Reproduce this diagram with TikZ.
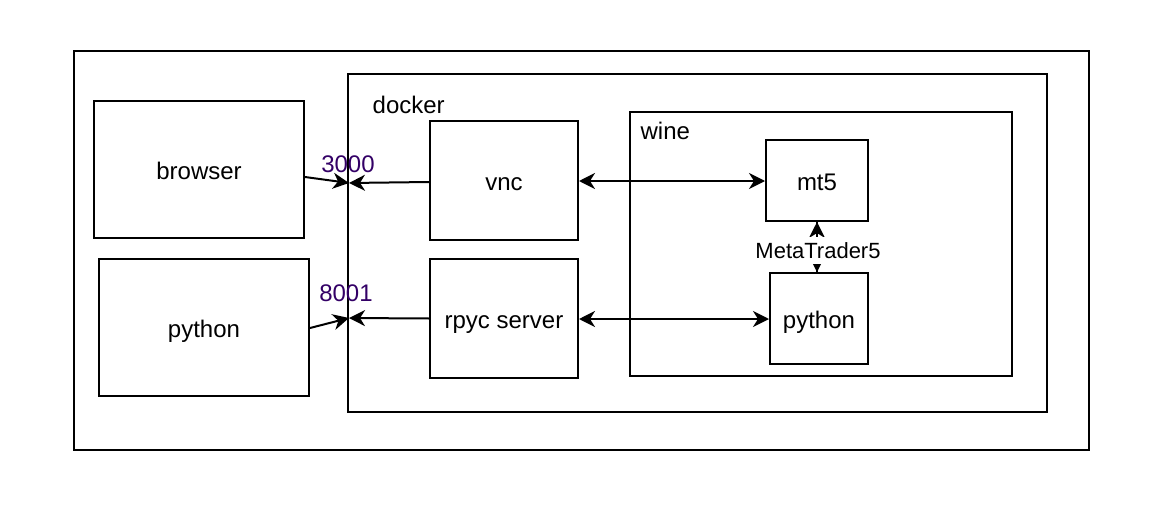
\documentclass[tikz,border=0pt]{standalone}
\usepackage{fontspec}
\setmainfont{Liberation Sans}
\usetikzlibrary{arrows.meta,positioning}
\definecolor{portcol}{RGB}{51,0,102}

\begin{document}
\begin{tikzpicture}[x=0.5pt,y=-0.5pt,line width=1pt,
  box/.style={draw,rectangle,inner sep=0pt,text height=11.4pt,text depth=1pt,font=\fontsize{12}{14}\selectfont},
  frame/.style={draw,rectangle,inner sep=0pt},
  tip/.style={-{Stealth[length=8pt,width=8pt,inset=2.5pt]}},
  both/.style={{Stealth[length=8pt,width=8pt,inset=2.5pt]}-{Stealth[length=8pt,width=8pt,inset=2.5pt]}},
  port/.style={text=portcol,font=\fontsize{12}{14}\selectfont},
  lbl/.style={anchor=west,font=\fontsize{12}{14}\selectfont}]
  \useasboundingbox (0,0) rectangle (1158,514);
  % frames
  \node[frame,minimum width=507.5pt,minimum height=199.5pt] (host) at (581.5,250.5) {};
  \node[frame,minimum width=349.5pt,minimum height=169pt] (docker) at (697.5,243) {};
  \node[frame,minimum width=191pt,minimum height=132pt] (wine) at (821,244) {};
  \node[lbl] at (365,105) {docker};
  \node[lbl] at (633,131) {wine};
  % boxes
  \node[box,minimum width=105pt,minimum height=68.5pt] (browser) at (199,169.5) {browser};
  \node[box,minimum width=105pt,minimum height=68.5pt] (client) at (204,327.5) {python};
  \node[box,minimum width=74pt,minimum height=59.5pt] (vnc) at (504,180.5) {vnc};
  \node[box,minimum width=74pt,minimum height=59.5pt] (rpyc) at (504,318.5) {rpyc server};
  \node[box,minimum width=51pt,minimum height=40.5pt] (mt5) at (817,180.5) {mt5};
  \node[box,minimum width=49pt,minimum height=45.5pt] (pyw) at (819,318.5) {python};
  % ports
  \coordinate (p3000) at (349,183);
  \coordinate (p8001) at (349,318);
  \node[port] at (348,164) {3000};
  \node[port] at (346,293) {8001};
  \draw[tip] (browser.east |- 0,177) -- (p3000);
  \draw[tip] (vnc.west |- 0,182) -- (p3000);
  \draw[tip] (client.east |- 0,328) -- (p8001);
  \draw[tip] (rpyc.west) -- (p8001);
  \path[both]
    (vnc.east |- 0,181) edge (mt5.west |- 0,181)
    (rpyc.east |- 0,319) edge (pyw.west |- 0,319);
  \draw[tip] (mt5.south |- pyw.north) -- (mt5.south);
  \draw[-{Stealth[length=5pt,width=5pt,inset=1.5pt]}] (mt5.south) -- (mt5.south |- pyw.north);
  \node[fill=white,inner sep=1pt,text height=10pt,text depth=1.5pt,font=\fontsize{11}{13}\selectfont] (mtlbl) at (818,250) {MetaTrader5};
\end{tikzpicture}
\end{document}
